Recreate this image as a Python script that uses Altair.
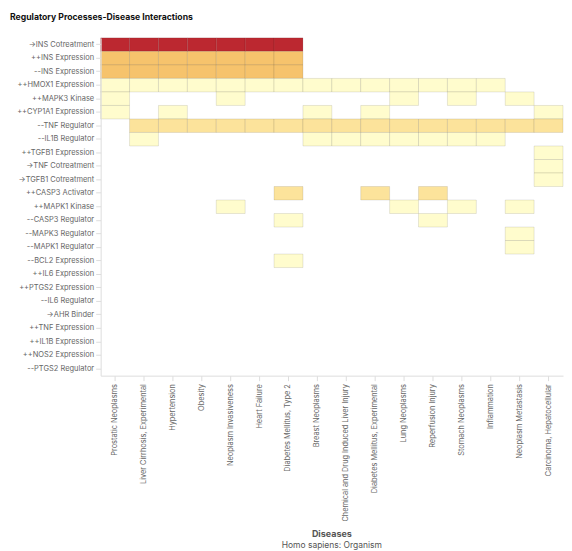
import altair as alt
import pandas as pd

processes = [
    "→INS Cotreatment", "++INS Expression", "--INS Expression", "++HMOX1 Expression",
    "++MAPK3 Kinase", "++CYP1A1 Expression", "--TNF Regulator", "--IL1B Regulator",
    "++TGFB1 Expression", "→TNF Cotreatment", "→TGFB1 Cotreatment", "++CASP3 Activator",
    "++MAPK1 Kinase", "--CASP3 Regulator", "--MAPK3 Regulator", "--MAPK1 Regulator",
    "--BCL2 Expression", "++IL6 Expression", "++PTGS2 Expression", "--IL6 Regulator",
    "→AHR Binder", "++TNF Expression", "++IL1B Expression", "++NOS2 Expression",
    "--PTGS2 Regulator",
]

diseases = [
    "Prostatic Neoplasms", "Liver Cirrhosis, Experimental", "Hypertension", "Obesity",
    "Neoplasm Invasiveness", "Heart Failure", "Diabetes Mellitus, Type 2", "Breast Neoplasms",
    "Chemical and Drug Induced Liver Injury", "Diabetes Mellitus, Experimental",
    "Lung Neoplasms", "Reperfusion Injury", "Stomach Neoplasms", "Inflammation",
    "Neoplasm Metastasis", "Carcinoma, Hepatocellular",
]

# (process, disease column indices, level)
cells = [
    ("→INS Cotreatment", [0, 1, 2, 3, 4, 5, 6], 4),
    ("++INS Expression", [0, 1, 2, 3, 4, 5, 6], 3),
    ("--INS Expression", [0, 1, 2, 3, 4, 5, 6], 3),
    ("++HMOX1 Expression", [0, 1, 2, 3, 4, 5, 6, 7, 8, 9, 10, 11, 12, 13], 1),
    ("++MAPK3 Kinase", [0, 4, 10, 12, 14], 1),
    ("++CYP1A1 Expression", [0, 2, 7, 9, 15], 1),
    ("--TNF Regulator", [1, 2, 3, 4, 5, 6, 7, 8, 9, 10, 11, 12, 13, 14, 15], 2),
    ("--IL1B Regulator", [1, 7, 8, 9, 10, 11, 12, 13], 1),
    ("++TGFB1 Expression", [15], 1),
    ("→TNF Cotreatment", [15], 1),
    ("→TGFB1 Cotreatment", [15], 1),
    ("++CASP3 Activator", [6, 9, 11], 2),
    ("++MAPK1 Kinase", [4, 10, 12, 14], 1),
    ("--CASP3 Regulator", [6, 11], 1),
    ("--MAPK3 Regulator", [14], 1),
    ("--MAPK1 Regulator", [14], 1),
    ("--BCL2 Expression", [6], 1),
]

levels = [1, 2, 3, 4]
level_colors = ["#fffccd", "#fce39b", "#f6c36c", "#bc2830"]

rows = []
for proc, cols, lvl in cells:
    for c in cols:
        rows.append({"process": proc, "disease": diseases[c], "level": lvl})
df = pd.DataFrame(rows)

font = "Inter"

heat = alt.Chart(df).mark_rect(stroke="black", strokeOpacity=0.1, strokeWidth=1).encode(
    x=alt.X("disease:N", scale=alt.Scale(domain=diseases),
            axis=alt.Axis(title=None, labelAngle=-90, labelFontSize=7.4, labelColor="#666",
                          domainColor="#ddd", tickColor="#ddd", labelPadding=3,
                          labelFont=font, labelLimit=200)),
    y=alt.Y("process:N", scale=alt.Scale(domain=processes),
            axis=alt.Axis(title=None, labelFontSize=7.5, labelColor="#666",
                          domainColor="#ddd", tickColor="#ddd", labelFont=font,
                          minExtent=91)),
    color=alt.Color("level:O", scale=alt.Scale(domain=levels, range=level_colors), legend=None),
).properties(
    width=464, height=339,
    title=alt.TitleParams(text="Diseases", subtitle="Homo sapiens: Organism", orient="bottom",
                          anchor="middle", frame="group", fontSize=9, fontWeight="bold",
                          color="#555", subtitleFontSize=8.5, subtitleColor="#555",
                          font=font, subtitleFont=font, offset=9, subtitlePadding=2),
)

chart = alt.vconcat(heat).properties(
    title=alt.TitleParams(text="Regulatory Processes-Disease Interactions", anchor="start",
                          frame="bounds", fontSize=8.7, fontWeight="bold", color="#111",
                          font=font, offset=16),
    padding={"left": 2, "top": 3, "right": 0, "bottom": 2},
).configure_view(stroke=None)

chart.save("out.html", embed_options={"renderer": "svg", "actions": False})
